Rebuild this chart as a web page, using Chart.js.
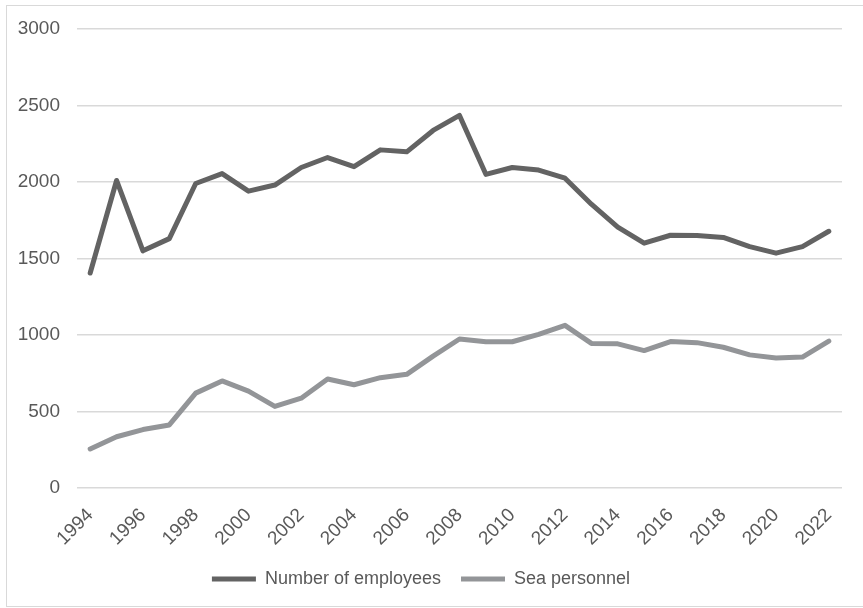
<!DOCTYPE html>
<html>
<head>
<meta charset="utf-8">
<title>Employees and sea personnel, 1994–2022</title>
<script src="https://cdn.jsdelivr.net/npm/chart.js@4"></script>
<style>
  html, body { margin: 0; padding: 0; background: #fff; }
  #wrap { position: relative; width: 863px; height: 608px; overflow: hidden; }
  #frame {
    position: absolute; left: 6px; top: 5px; width: 870px; height: 600px;
    border: 1px solid #d9d9d9;
  }
  canvas { position: absolute; left: 0; top: 0; }
</style>
</head>
<body>
<div id="wrap">
  <div id="frame"></div>
  <canvas id="staffChart" width="863" height="608"></canvas>
</div>
<script>
// Staff headcount by year

const years = [
  "1994", "1995", "1996", "1997", "1998", "1999", "2000", "2001", "2002", "2003",
  "2004", "2005", "2006", "2007", "2008", "2009", "2010", "2011", "2012", "2013",
  "2014", "2015", "2016", "2017", "2018", "2019", "2020", "2021", "2022"
];

const employees = [
  1405, 2010, 1550, 1630, 1990, 2055, 1940, 1980, 2095, 2160,
  2100, 2210, 2197, 2337, 2435, 2050, 2095, 2078, 2025, 1855,
  1705, 1600, 1652, 1650, 1638, 1578, 1535, 1578, 1678
];

const seaPersonnel = [
  255, 335, 382, 412, 620, 700, 633, 533, 587, 712,
  675, 721, 743, 862, 974, 956, 956, 1004, 1063, 945,
  942, 898, 957, 950, 920, 870, 850, 856, 960
];

const yTicks = [0, 500, 1000, 1500, 2000, 2500, 3000];

const textColor = "#595959";
const font = { family: "'Liberation Sans', Arial, sans-serif", size: 19 };

new Chart(document.getElementById("staffChart"), {

  type: "line",

  data: {
    labels: years,
    datasets: [
      {
        label: "Number of employees",
        data: employees,
        borderColor: "#636363",
        backgroundColor: "#636363",
        borderWidth: 5,
        borderJoinStyle: "round",
        borderCapStyle: "round",
        pointRadius: 0,
        tension: 0
      },
      {
        label: "Sea personnel",
        data: seaPersonnel,
        borderColor: "#939598",
        backgroundColor: "#939598",
        borderWidth: 5,
        borderJoinStyle: "round",
        borderCapStyle: "round",
        pointRadius: 0,
        tension: 0
      }
    ]
  },

  options: {
    responsive: false,
    animation: false,
    layout: {
      padding: { top: 29, right: 21, bottom: 10, left: 0 }
    },
    scales: {
      x: {
        offset: true,
        grid: { display: false, drawTicks: false },
        border: { display: false },
        ticks: {
          color: textColor,
          font: font,
          autoSkip: false,
          minRotation: 45,
          maxRotation: 45,
          padding: 16,
          callback: function (value, index) {
            return index % 2 === 0 ? years[index] : "";
          }
        },
        afterFit: scale => { scale.height = 62; }
      },
      y: {
        min: 0,
        max: 3000,
        grid: { color: "#d9d9d9", lineWidth: 1.5, drawTicks: false },
        border: { display: false },
        ticks: {
          color: textColor,
          font: font,
          padding: 17,
          callback: value => String(value)
        },
        afterBuildTicks: scale => {
          scale.ticks = yTicks.map(v => ({ value: v }));
        },
        afterFit: scale => { scale.width = 77; }
      }
    },
    plugins: {
      legend: {
        position: "bottom",
        labels: {
          color: textColor,
          font: { family: font.family, size: 18 },
          usePointStyle: true,
          pointStyle: "line",
          pointStyleWidth: 44,
          boxHeight: 5,
          padding: 20
        }
      },
      tooltip: { enabled: false }
    }
  }

});
</script>
</body>
</html>
